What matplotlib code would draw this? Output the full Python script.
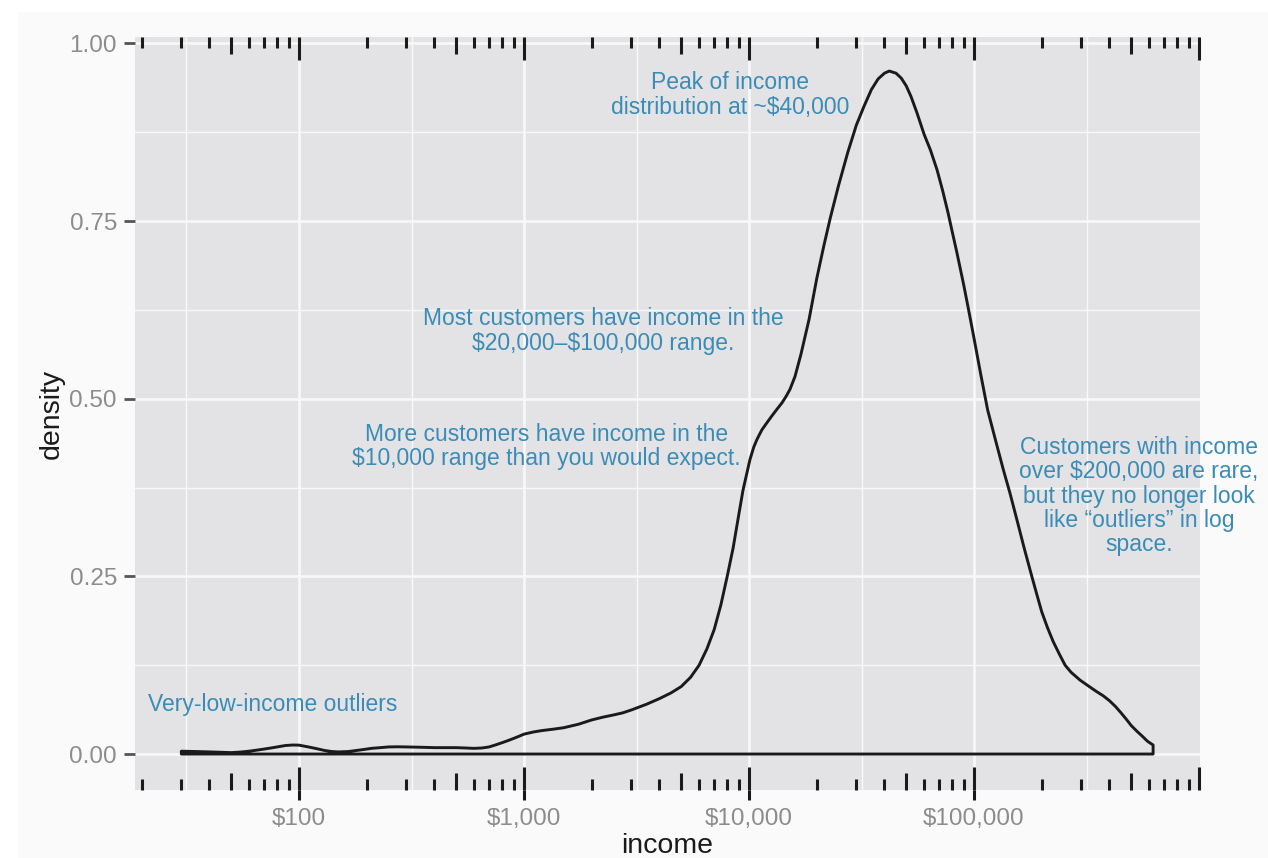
import numpy as np
import matplotlib
matplotlib.use("Agg")
import matplotlib.pyplot as plt
from matplotlib.patches import Rectangle

plt.rcParams['font.family'] = ['Liberation Sans', 'DejaVu Sans']

# Density of customer income (log10 scale)
income = [30, 35, 40, 45, 50, 55, 60, 65, 70, 75, 80, 87, 94, 100, 110, 120,
          130, 140, 150, 165, 180, 195, 210, 230, 250, 275, 300, 350, 400,
          450, 500, 550, 600, 650, 700, 750, 800, 850, 900, 950, 1000, 1100,
          1200, 1350, 1500, 1750, 2000, 2250, 2500, 2750, 3000, 3500, 4000,
          4500, 5000, 5500, 6000, 6500, 7000, 7500, 8000, 8500, 8930, 9400,
          10090, 10500, 10860, 11400, 12000, 12650, 13300, 14000, 14600,
          15200, 16000, 17000, 18500, 20000, 21500, 23000, 25000, 27500,
          30000, 32500, 35000, 37500, 40000, 42000, 45000, 47500, 50000,
          52500, 55800, 60000, 64000, 68500, 72500, 76600, 80000, 84000,
          90000, 95000, 100000, 107000, 115000, 125000, 135000, 144500,
          155000, 167000, 181000, 190000, 200000, 212000, 225000, 240000,
          254000, 270000, 296000, 325000, 350000, 375000, 400000, 425000,
          450000, 475000, 500000, 530000, 560000, 590000, 625000]
density = [0.004, 0.0035, 0.003, 0.0025, 0.002, 0.0028, 0.004, 0.0055,
           0.007, 0.0085, 0.010, 0.012, 0.0127, 0.0125, 0.010, 0.0075, 0.005,
           0.0035, 0.003, 0.0035, 0.005, 0.0065, 0.008, 0.009, 0.010, 0.0102,
           0.010, 0.0095, 0.009, 0.009, 0.009, 0.0085, 0.008, 0.0085, 0.010,
           0.013, 0.016, 0.019, 0.022, 0.025, 0.028, 0.031, 0.033, 0.035,
           0.037, 0.042, 0.048, 0.052, 0.055, 0.058, 0.062, 0.070, 0.078,
           0.086, 0.095, 0.108, 0.125, 0.148, 0.175, 0.21, 0.25, 0.29, 0.33,
           0.371, 0.414, 0.432, 0.443, 0.456, 0.466, 0.476, 0.485, 0.494,
           0.503, 0.513, 0.531, 0.562, 0.612, 0.669, 0.715, 0.755, 0.80,
           0.847, 0.885, 0.912, 0.935, 0.950, 0.958, 0.961, 0.958, 0.951,
           0.94, 0.925, 0.902, 0.872, 0.85, 0.822, 0.793, 0.762, 0.735,
           0.705, 0.66, 0.622, 0.585, 0.535, 0.484, 0.44, 0.40, 0.367, 0.33,
           0.29, 0.249, 0.225, 0.20, 0.178, 0.158, 0.14, 0.125, 0.115,
           0.104, 0.095, 0.088, 0.082, 0.075, 0.067, 0.058, 0.049, 0.040,
           0.032, 0.025, 0.018, 0.0127]

x_breaks = [100, 1000, 10000, 100000]
x_labels = ["$100", "$1,000", "$10,000", "$100,000"]
y_breaks = [0.00, 0.25, 0.50, 0.75, 1.00]
y_labels = ["0.00", "0.25", "0.50", "0.75", "1.00"]
decades = [10, 100, 1000, 10000, 100000]

notes = [
    ("Peak of income\ndistribution at ~$40,000", 8230, 0.927),
    ("Most customers have income in the\n$20,000\u2013$100,000 range.", 2250, 0.595),
    ("More customers have income in the\n$10,000 range than you would expect.", 1262, 0.433),
    ("Customers with income\nover $200,000 are rare,\nbut they no longer look\n"
     "like \u201coutliers\u201d in log\nspace.", 541000, 0.363),
    ("Very-low-income outliers", 76.6, 0.069),
]

note_color = '#3a8cb6'
panel_color = '#e3e3e5'
grid_color = '#f8f8f8'

fig = plt.figure(figsize=(12.68, 8.58), dpi=100)
fig.patch.set_facecolor('white')
fig.patches.append(Rectangle((18 / 1268, 0), 1, 1 - 12 / 858,
                             transform=fig.transFigure, facecolor='#fafafa',
                             edgecolor='none', zorder=-10))

ax = fig.add_axes([135 / 1268, 1 - 790 / 858, 1065 / 1268, 753 / 858])
ax.set_facecolor(panel_color)
ax.set_xscale('log')
ax.set_xlim(18.67, 1.01e6)
ax.set_ylim(-0.0506, 1.0089)

# grid lines
for v in x_breaks:
    ax.axvline(v, color=grid_color, lw=1.9, zorder=1)
for v in [10 ** (k + 0.5) for k in range(1, 6)]:
    ax.axvline(v, color=grid_color, lw=1.0, zorder=1)
for v in y_breaks:
    ax.axhline(v, color=grid_color, lw=1.9, zorder=1)
for v in [0.125, 0.375, 0.625, 0.875]:
    ax.axhline(v, color=grid_color, lw=1.0, zorder=1)

# density outline, closed along the baseline
xs = [income[0]] + income + [income[-1]]
ys = [0.0] + density + [0.0]
ax.fill(xs, ys, facecolor='none', edgecolor='#1a1a1a', lw=2.1, zorder=3,
        joinstyle='round')

# log ticks on top and bottom
tr = ax.get_xaxis_transform()
short, mid, long_ = 11 / 753, 17 / 753, 23 / 753
for d in decades:
    for m in range(2, 11):
        v = d * m
        if v < 18.67 or v > 1.02e6:
            continue
        ln = long_ if m == 10 else (mid if m == 5 else short)
        ax.plot([v, v], [0, ln], transform=tr, color='#1a1a1a', lw=2.2,
                solid_capstyle='butt', zorder=4, clip_on=False)
        ax.plot([v, v], [1, 1 - ln], transform=tr, color='#1a1a1a', lw=2.2,
                solid_capstyle='butt', zorder=4, clip_on=False)

ax.set_xticks(x_breaks)
ax.set_xticklabels(x_labels)
ax.xaxis.set_minor_locator(matplotlib.ticker.NullLocator())
ax.set_yticks(y_breaks)
ax.set_yticklabels(y_labels)
ax.tick_params(axis='x', length=7, width=2.2, color='#1a1a1a', pad=6,
               labelsize=17.5, labelcolor='#8c8c8c')
ax.tick_params(axis='y', length=8, width=2, color='#555555', pad=5,
               labelsize=17.5, labelcolor='#8c8c8c')
for s in ax.spines.values():
    s.set_visible(False)

ax.set_xlabel('income', fontsize=20.5, color='#1a1a1a', labelpad=2)
ax.set_ylabel('density', fontsize=20.5, color='#1a1a1a', labelpad=3)

for txt, xv, yv in notes:
    ax.text(xv, yv, txt, ha='center', va='center', fontsize=16.5,
            color=note_color, linespacing=1.08, zorder=5, parse_math=False)

fig.savefig('out.png', dpi=100)
